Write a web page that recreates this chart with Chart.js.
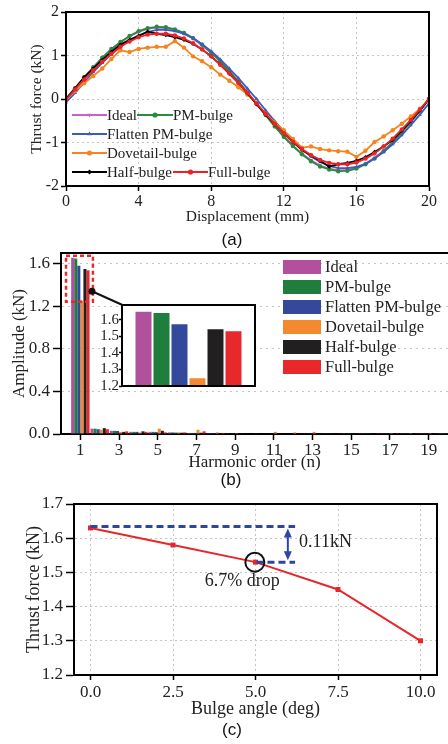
<!DOCTYPE html>
<html><head><meta charset="utf-8">
<script src="https://cdn.jsdelivr.net/npm/chart.js@4/dist/chart.umd.min.js"></script>
<style>
html,body{margin:0;padding:0;background:#fff;overflow:hidden}
#wrap{position:relative;width:448px;height:744px;background:#fff;overflow:hidden}
canvas{position:absolute;left:0}
</style></head><body>
<div id="wrap">
<canvas id="ca" width="448" height="248" style="top:0px;width:448px;height:248px"></canvas>
<canvas id="cb" width="448" height="246" style="top:246px;width:448px;height:246px"></canvas>
<canvas id="cbi" width="170" height="95" style="left:90px;top:298px;width:170px;height:95px"></canvas>
<canvas id="cc" width="448" height="254" style="top:490px;width:448px;height:254px"></canvas>
</div>
<script>
// ---------------- DATA: panel (a) ----------------
const displacement = [0,0.5,1,1.5,2,2.5,3,3.5,4,4.5,5,5.5,6,6.5,7,7.5,8,8.5,9,9.5,10,10.5,11,11.5,12,12.5,13,13.5,14,14.5,15,15.5,16,16.5,17,17.5,18,18.5,19,19.5,20];
const forceIdeal    = [0,0.25,0.49,0.72,0.94,1.13,1.30,1.44,1.54,1.61,1.64,1.63,1.58,1.50,1.39,1.23,1.06,0.86,0.63,0.40,0.15,-0.11,-0.37,-0.62,-0.86,-1.07,-1.26,-1.41,-1.53,-1.60,-1.64,-1.63,-1.58,-1.49,-1.35,-1.19,-0.99,-0.76,-0.52,-0.27,0];
const forcePM       = [0,0.25,0.50,0.73,0.95,1.15,1.31,1.45,1.56,1.63,1.66,1.65,1.60,1.52,1.40,1.25,1.07,0.87,0.64,0.40,0.15,-0.11,-0.37,-0.63,-0.87,-1.08,-1.27,-1.43,-1.55,-1.62,-1.66,-1.65,-1.60,-1.50,-1.37,-1.20,-1.00,-0.77,-0.53,-0.27,0];
const forceFlatten  = [-0.08,0.14,0.38,0.62,0.83,1.03,1.20,1.35,1.46,1.54,1.59,1.59,1.56,1.50,1.40,1.26,1.10,0.91,0.70,0.48,0.24,0,-0.26,-0.51,-0.74,-0.96,-1.16,-1.32,-1.45,-1.54,-1.59,-1.59,-1.56,-1.49,-1.37,-1.22,-1.04,-0.83,-0.60,-0.36,-0.10];
const forceDovetail = [0,0.18,0.36,0.53,0.70,0.92,1.12,1.08,1.15,1.18,1.20,1.20,1.33,1.18,0.98,0.87,0.73,0.56,0.42,0.27,0.10,-0.10,-0.34,-0.54,-0.72,-0.92,-1.12,-1.09,-1.15,-1.18,-1.20,-1.21,-1.33,-1.19,-0.99,-0.86,-0.72,-0.57,-0.40,-0.23,0];
const forceHalf     = [0,0.24,0.50,0.70,0.90,1.08,1.25,1.36,1.45,1.55,1.50,1.47,1.42,1.36,1.27,1.14,0.98,0.79,0.58,0.37,0.13,-0.12,-0.36,-0.58,-0.79,-0.99,-1.17,-1.30,-1.42,-1.55,-1.50,-1.47,-1.42,-1.34,-1.22,-1.09,-0.94,-0.73,-0.50,-0.26,0];
const forceFull     = [-0.02,0.22,0.45,0.66,0.86,1.04,1.20,1.32,1.42,1.48,1.50,1.50,1.46,1.39,1.28,1.14,0.98,0.79,0.59,0.37,0.14,-0.10,-0.34,-0.57,-0.79,-0.98,-1.15,-1.29,-1.40,-1.47,-1.50,-1.50,-1.46,-1.37,-1.25,-1.09,-0.91,-0.70,-0.48,-0.24,0];
const dispTicks  = [0,4,8,12,16,20];
const forceTicks = [-2,-1,0,1,2];

const seriesNames = ['Ideal','PM-bulge','Flatten PM-bulge','Dovetail-bulge','Half-bulge','Full-bulge'];

// ---------------- DATA: panel (b) ----------------
const harmonicOrder = [1,2,3,4,5,6,7,8,9,10,11,12,13,14,15,16,17,18,19,20];
const ampIdeal    = [1.655,0.050,0.030,0.020,0.020,0.015,0.010,0.008,0.006,0.005,0.004,0.004,0.003,0.003,0.002,0.002,0.002,0.002,0.002,0.001];
const ampPM       = [1.648,0.050,0.030,0.020,0.020,0.015,0.010,0.008,0.006,0.005,0.004,0.004,0.003,0.003,0.002,0.002,0.002,0.002,0.002,0.001];
const ampFlatten  = [1.580,0.045,0.028,0.020,0.018,0.013,0.010,0.008,0.006,0.005,0.004,0.004,0.003,0.003,0.002,0.002,0.002,0.002,0.002,0.001];
const ampDovetail = [1.253,0.040,0.020,0.015,0.050,0.015,0.040,0.015,0.008,0.006,0.020,0.015,0.020,0.005,0.004,0.005,0.008,0.008,0.008,0.004];
const ampHalf     = [1.550,0.055,0.020,0.025,0.030,0.012,0.012,0.008,0.006,0.005,0.004,0.004,0.003,0.003,0.002,0.002,0.002,0.002,0.002,0.001];
const ampFull     = [1.537,0.045,0.025,0.020,0.015,0.015,0.025,0.010,0.006,0.005,0.005,0.004,0.004,0.003,0.002,0.002,0.002,0.002,0.002,0.001];
const harmTicks  = [1,3,5,7,9,11,13,15,17,19];
const ampTicks   = [0,0.4,0.8,1.2,1.6];
const insetTicks = [1.2,1.3,1.4,1.5,1.6];
const insetCategory = ['1'];

// ---------------- DATA: panel (c) ----------------
const bulgeAngle    = [0,2.5,5,7.5,10];
const thrustByAngle = [1.63,1.58,1.53,1.45,1.30];
const angleTicks    = [0,2.5,5,7.5,10];
const thrustTicks   = [1.2,1.3,1.4,1.5,1.6,1.7];
const dropTop = 1.634, dropBottom = 1.530;

// ---------------- styles ----------------
const SERIF = "'Liberation Serif','Times New Roman',serif";
const SANS  = "'Liberation Sans',Arial,sans-serif";
const TXT = '#222';
const lineColors = ['#c862c8','#2b8a3e','#3b5bbd','#f5841f','#000000','#ec2227'];
const barColors  = ['#b2509e','#1f7d3d','#34499c','#f38a32','#221f20','#e8282b'];
const markerStyles = ['triangle','circle','triangle','circle','rectRot','circle'];
const markerRot = [180,0,0,0,0,0];

const fixY = w => s => { s.width = w; s.paddingTop = 0; s.paddingBottom = 0; };
const fixX = h => s => { s.height = h; s.paddingLeft = 0; s.paddingRight = 0; };
const setTicks = arr => s => { s.ticks = arr.map(v => ({value: v})); };

const frameAll = {id:'frameAll', afterDraw(chart){
  const {ctx, chartArea:a} = chart; ctx.save();
  ctx.strokeStyle = '#000'; ctx.lineWidth = 2;
  ctx.strokeRect(a.left, a.top, a.right - a.left, a.bottom - a.top);
  ctx.restore();
}};
function panelLabel(ctx, text, x, y){
  ctx.save(); ctx.fillStyle = '#111'; ctx.font = '17px ' + SANS;
  ctx.textAlign = 'center'; ctx.textBaseline = 'middle'; ctx.fillText(text, x, y); ctx.restore();
}
function marker(ctx, style, rot, r, x, y, color){
  ctx.save(); ctx.fillStyle = color; ctx.strokeStyle = color;
  if (Chart.helpers && Chart.helpers.drawPoint) {
    Chart.helpers.drawPoint(ctx, {pointStyle: style, rotation: rot, radius: r, borderWidth: 0}, x, y);
  } else { ctx.beginPath(); ctx.arc(x, y, r, 0, Math.PI*2); ctx.fill(); }
  ctx.restore();
}

// ---------------- Panel (a) ----------------
const forceSeries = [forceIdeal, forcePM, forceFlatten, forceDovetail, forceHalf, forceFull];
const legendA = [
  {i:0, x1:72,  x2:107, y:115}, {i:1, x1:137, x2:173, y:115},
  {i:2, x1:72,  x2:107, y:134}, {i:3, x1:72,  x2:107, y:153},
  {i:4, x1:72,  x2:107, y:172}, {i:5, x1:173, x2:208, y:172}
];
const decoA = {id:'decoA', afterDraw(chart){
  const ctx = chart.ctx;
  ctx.save();
  legendA.forEach(it => {
    ctx.strokeStyle = lineColors[it.i]; ctx.lineWidth = 2;
    ctx.beginPath(); ctx.moveTo(it.x1, it.y); ctx.lineTo(it.x2, it.y); ctx.stroke();
    marker(ctx, markerStyles[it.i], markerRot[it.i], 2.6, (it.x1 + it.x2)/2, it.y, lineColors[it.i]);
    ctx.fillStyle = TXT; ctx.font = '15px ' + SERIF; ctx.textAlign = 'left'; ctx.textBaseline = 'middle';
    ctx.fillText(seriesNames[it.i], it.x2, it.y + 1);
  });
  ctx.restore();
  panelLabel(ctx, '(a)', 232, 240);
}};
new Chart(document.getElementById('ca'), {
  type: 'line',
  data: { datasets: forceSeries.map((arr, k) => ({
    label: seriesNames[k],
    data: displacement.map((x, i) => ({x: x, y: arr[i]})),
    borderColor: lineColors[k], backgroundColor: lineColors[k],
    borderWidth: 1.8, pointRadius: 2.2, pointBorderWidth: 0,
    pointStyle: markerStyles[k], pointRotation: markerRot[k],
    tension: 0, order: 6 - k
  }))},
  options: {
    responsive: false, animation: false, devicePixelRatio: 1,
    layout: {padding: {left: 27.7, right: 19, top: 12, bottom: 21.7}},
    plugins: {legend: {display: false}, tooltip: {enabled: false}},
    scales: {
      x: {type: 'linear', min: 0, max: 20, bounds: 'data',
        afterBuildTicks: setTicks(dispTicks), afterFit: fixX(40.3),
        ticks: {font: {family: SERIF, size: 16}, color: TXT, padding: 1, maxRotation: 0, autoSkip: false, callback: v => String(v)},
        grid: {color: '#c4c4c4', lineWidth: 1, tickLength: 5, tickColor: '#000', tickWidth: 1.5},
        border: {color: '#000', width: 2, dash: [2, 3]},
        title: {display: true, text: 'Displacement (mm)', font: {family: SERIF, size: 15.5}, color: TXT, padding: 0}
      },
      y: {type: 'linear', min: -2, max: 2, bounds: 'data',
        afterBuildTicks: setTicks(forceTicks), afterFit: fixY(38.3),
        ticks: {font: {family: SERIF, size: 16}, color: TXT, padding: 2, autoSkip: false, callback: v => String(v)},
        grid: {color: '#c4c4c4', lineWidth: 1, tickLength: 5, tickColor: '#000', tickWidth: 1.5},
        border: {color: '#000', width: 2, dash: [2, 3]},
        title: {display: true, text: 'Thrust force (kN)', font: {family: SERIF, size: 15.5}, color: TXT, padding: 0}
      }
    }
  },
  plugins: [frameAll, decoA]
});

// ---------------- Panel (b) ----------------
const ampSeries = [ampIdeal, ampPM, ampFlatten, ampDovetail, ampHalf, ampFull];
const zoomBox  = {x0: 0.26, x1: 1.65, y0: 1.242, y1: 1.675};
const zoomDot  = {x: 1.60, y: 1.341};
const zoomLink = {x: 3.15, y: 1.214};
const decoB = {id:'decoB', afterDraw(chart){
  const {ctx, chartArea: a, scales: {x, y}} = chart;
  ctx.save();
  ctx.strokeStyle = '#000'; ctx.lineWidth = 2;
  ctx.beginPath(); ctx.moveTo(a.left, a.top); ctx.lineTo(a.right, a.top); ctx.stroke();
  ctx.strokeStyle = '#e8282b'; ctx.lineWidth = 2.5; ctx.setLineDash([4, 3]);
  const rx0 = x.getPixelForValue(zoomBox.x0), rx1 = x.getPixelForValue(zoomBox.x1);
  const ry0 = y.getPixelForValue(zoomBox.y1), ry1 = y.getPixelForValue(zoomBox.y0);
  ctx.strokeRect(rx0, ry0, rx1 - rx0, ry1 - ry0);
  ctx.setLineDash([]);
  const dx = x.getPixelForValue(zoomDot.x), dy = y.getPixelForValue(zoomDot.y);
  ctx.strokeStyle = '#111'; ctx.lineWidth = 2;
  ctx.beginPath(); ctx.moveTo(dx, dy); ctx.lineTo(x.getPixelForValue(zoomLink.x), y.getPixelForValue(zoomLink.y)); ctx.stroke();
  ctx.fillStyle = '#111'; ctx.beginPath(); ctx.arc(dx, dy, 3.5, 0, Math.PI*2); ctx.fill();
  seriesNames.forEach((n, k) => {
    const cy = 21 + 20 * k;
    ctx.fillStyle = barColors[k]; ctx.fillRect(283, cy - 7, 38, 14);
    ctx.fillStyle = TXT; ctx.font = '16.5px ' + SERIF; ctx.textAlign = 'left'; ctx.textBaseline = 'middle';
    ctx.fillText(n, 325, cy + 1);
  });
  ctx.restore();
  panelLabel(ctx, '(b)', 231, 234);
}};
new Chart(document.getElementById('cb'), {
  type: 'bar',
  data: { datasets: ampSeries.map((arr, k) => ({
    label: seriesNames[k],
    data: harmonicOrder.map((h, i) => ({x: h, y: arr[i]})),
    backgroundColor: barColors[k], borderWidth: 0,
    categoryPercentage: 0.95, barPercentage: 1
  }))},
  options: {
    responsive: false, animation: false, devicePixelRatio: 1,
    layout: {padding: {left: 9.8, right: 0, top: 7, bottom: 18.8}},
    plugins: {legend: {display: false}, tooltip: {enabled: false}},
    scales: {
      x: {type: 'linear', min: 0, max: 20, bounds: 'data', offset: false,
        afterBuildTicks: setTicks(harmTicks), afterFit: fixX(39.2),
        ticks: {font: {family: SERIF, size: 17}, color: TXT, padding: 0, maxRotation: 0, autoSkip: false, callback: v => String(v)},
        grid: {offset: false, drawOnChartArea: false, tickLength: 6, tickColor: '#000', tickWidth: 1.5},
        border: {color: '#000', width: 2},
        title: {display: true, text: 'Harmonic order (n)', font: {family: SERIF, size: 17}, color: TXT, padding: 0}
      },
      y: {type: 'linear', min: 0, max: 1.7, bounds: 'data',
        afterBuildTicks: setTicks(ampTicks), afterFit: fixY(51.2),
        ticks: {font: {family: SERIF, size: 17}, color: TXT, padding: 3, autoSkip: false, callback: v => v.toFixed(1)},
        grid: {color: '#c4c4c4', lineWidth: 1, tickLength: 8, tickColor: '#000', tickWidth: 1.5},
        border: {color: '#000', width: 2, dash: [2, 4]},
        title: {display: true, text: 'Amplitude (kN)', font: {family: SERIF, size: 17}, color: TXT, padding: 0}
      }
    }
  },
  plugins: [decoB]
});

// inset of panel (b)
const whiteArea = {id:'whiteArea', beforeDraw(chart){
  const {ctx, chartArea: a} = chart; ctx.save(); ctx.fillStyle = '#fff';
  ctx.fillRect(a.left, a.top, a.right - a.left, a.bottom - a.top); ctx.restore();
}};
new Chart(document.getElementById('cbi'), {
  type: 'bar',
  data: { labels: insetCategory, datasets: ampSeries.map((arr, k) => ({
    label: seriesNames[k], data: [arr[0]], backgroundColor: barColors[k],
    borderColor: 'rgba(255,255,255,0.35)', borderWidth: 1,
    categoryPercentage: 0.812, barPercentage: 1
  }))},
  options: {
    responsive: false, animation: false, devicePixelRatio: 1,
    layout: {padding: {left: 0, right: 5, top: 7, bottom: 7}},
    plugins: {legend: {display: false}, tooltip: {enabled: false}},
    scales: {
      x: {display: false},
      y: {type: 'linear', min: 1.2, max: 1.69, bounds: 'data',
        afterBuildTicks: setTicks(insetTicks), afterFit: fixY(32),
        ticks: {font: {family: SERIF, size: 15}, color: TXT, padding: 0, autoSkip: false, callback: v => v.toFixed(1)},
        grid: {drawOnChartArea: false, tickLength: 3, tickColor: '#000', tickWidth: 1.5},
        border: {display: false}
      }
    }
  },
  plugins: [whiteArea, frameAll]
});

// ---------------- Panel (c) ----------------
const decoC = {id:'decoC', afterDraw(chart){
  const {ctx, scales: {x, y}} = chart;
  const px = v => x.getPixelForValue(v), py = v => y.getPixelForValue(v);
  ctx.save();
  const blue = '#2e46a3';
  ctx.strokeStyle = blue; ctx.lineWidth = 3; ctx.setLineDash([7, 4]);
  ctx.beginPath(); ctx.moveTo(px(0), py(dropTop)); ctx.lineTo(px(6.2), py(dropTop)); ctx.stroke();
  ctx.beginPath(); ctx.moveTo(px(5.03), py(dropBottom)); ctx.lineTo(px(6.2), py(dropBottom)); ctx.stroke();
  ctx.setLineDash([]);
  const ax = px(5.98), ya = py(dropTop) + 2, yb = py(dropBottom) - 2;
  ctx.lineWidth = 2; ctx.fillStyle = blue;
  ctx.beginPath(); ctx.moveTo(ax, ya + 6); ctx.lineTo(ax, yb - 6); ctx.stroke();
  ctx.beginPath(); ctx.moveTo(ax, ya); ctx.lineTo(ax - 4, ya + 9); ctx.lineTo(ax + 4, ya + 9); ctx.closePath(); ctx.fill();
  ctx.beginPath(); ctx.moveTo(ax, yb); ctx.lineTo(ax - 4, yb - 9); ctx.lineTo(ax + 4, yb - 9); ctx.closePath(); ctx.fill();
  ctx.strokeStyle = '#111'; ctx.lineWidth = 2;
  ctx.beginPath(); ctx.arc(px(4.98), py(dropBottom), 9.5, 0, Math.PI*2); ctx.stroke();
  ctx.fillStyle = TXT; ctx.font = '18px ' + SERIF; ctx.textBaseline = 'middle';
  ctx.textAlign = 'left'; ctx.fillText('0.11kN', px(6.32), py(1.587));
  ctx.textAlign = 'center'; ctx.fillText('6.7% drop', px(4.6), py(1.473));
  ctx.restore();
  panelLabel(ctx, '(c)', 232, 240);
}};
new Chart(document.getElementById('cc'), {
  type: 'line',
  data: { datasets: [{
    label: 'Thrust force',
    data: bulgeAngle.map((a, i) => ({x: a, y: thrustByAngle[i]})),
    borderColor: '#e8262a', backgroundColor: '#e8262a', borderWidth: 2,
    pointStyle: 'rect', pointRadius: 3.5, pointBorderWidth: 0, tension: 0
  }]},
  options: {
    responsive: false, animation: false, devicePixelRatio: 1,
    layout: {padding: {left: 23.7, right: 11, top: 14, bottom: 24}},
    plugins: {legend: {display: false}, tooltip: {enabled: false}},
    scales: {
      x: {type: 'linear', min: -0.5, max: 10.5, bounds: 'data',
        afterBuildTicks: setTicks(angleTicks), afterFit: fixX(45),
        ticks: {font: {family: SERIF, size: 17}, color: TXT, padding: 2, maxRotation: 0, autoSkip: false, callback: v => v.toFixed(1)},
        grid: {color: '#c4c4c4', lineWidth: 1, tickLength: 5, tickColor: '#000', tickWidth: 1.5},
        border: {color: '#000', width: 2, dash: [2, 3]},
        title: {display: true, text: 'Bulge angle (deg)', font: {family: SERIF, size: 18}, color: TXT, padding: 0}
      },
      y: {type: 'linear', min: 1.2, max: 1.7, bounds: 'data',
        afterBuildTicks: setTicks(thrustTicks), afterFit: fixY(50.3),
        ticks: {font: {family: SERIF, size: 17}, color: TXT, padding: 3, autoSkip: false, callback: v => v.toFixed(1)},
        grid: {color: '#c4c4c4', lineWidth: 1, tickLength: 8, tickColor: '#000', tickWidth: 1.5},
        border: {color: '#000', width: 2, dash: [2, 3]},
        title: {display: true, text: 'Thrust force (kN)', font: {family: SERIF, size: 18}, color: TXT, padding: 0}
      }
    }
  },
  plugins: [frameAll, decoC]
});
</script>
</body></html>
